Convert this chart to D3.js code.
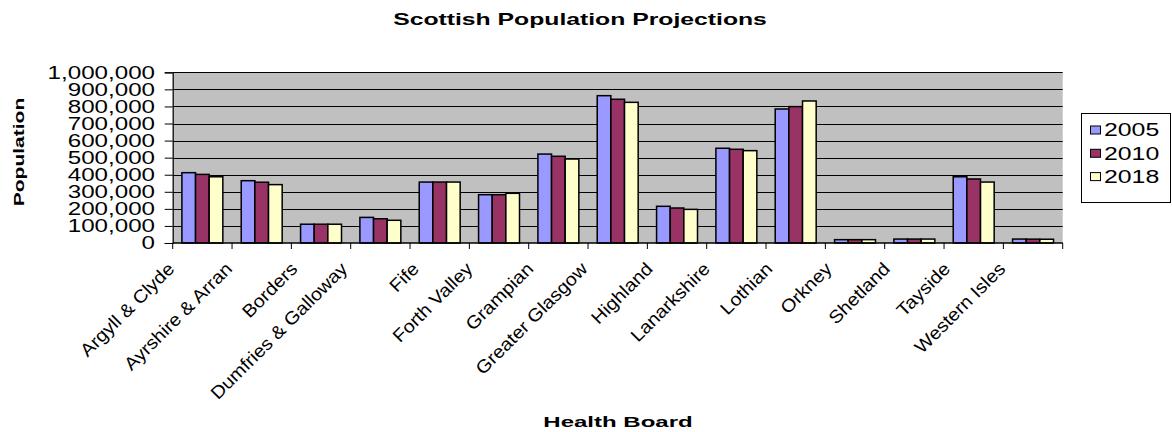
<!DOCTYPE html>
<html>
<head>
<meta charset="utf-8">
<script src="https://cdn.jsdelivr.net/npm/d3@7"></script>
<style>
  body { margin: 0; background: #fff; }
  svg { font-family: "Liberation Sans", Arial, sans-serif; }
</style>
</head>
<body>
<svg id="chart" width="1172" height="432"></svg>
<script>
var categories = ["Argyll & Clyde", "Ayrshire & Arran", "Borders", "Dumfries & Galloway", "Fife",
    "Forth Valley", "Grampian", "Greater Glasgow", "Highland", "Lanarkshire", "Lothian",
    "Orkney", "Shetland", "Tayside", "Western Isles"];
var years = ["2005", "2010", "2018"];
var pop2005 = [412000, 365000, 110000, 150000, 357000, 283000, 521000, 863000, 215000, 555000, 785000, 19500, 23000, 388000, 23000];
var pop2010 = [402000, 356000, 110000, 142000, 357000, 283000, 508000, 842000, 205000, 549000, 799000, 19500, 23000, 375000, 22500];
var pop2018 = [388000, 342000, 110000, 133000, 357000, 291000, 492000, 824000, 197000, 541000, 832000, 19500, 23000, 357000, 22000];
var yTicks = [0, 100000, 200000, 300000, 400000, 500000, 600000, 700000, 800000, 900000, 1000000];
var colors = ["#9999FF", "#993366", "#FFFFCC"];

var series = [pop2005, pop2010, pop2018];

var svg = d3.select("#chart");

var plot = {left: 172.7, right: 1062.7, top: 72.3, bottom: 243};

var x0 = d3.scaleBand()
    .domain(categories)
    .range([plot.left, plot.right])
    .paddingInner(0.31)
    .paddingOuter(0.155);

var x1 = d3.scaleBand()
    .domain(years)
    .range([0, x0.bandwidth()]);

var y = d3.scaleLinear()
    .domain([0, 1000000])
    .range([plot.bottom, plot.top]);

var fmt = d3.format(",");

// text that looks stretched like the excel fonts
function stretchText(parent, tx, ty, rot, sx, str) {
    var g = parent.append("g")
        .attr("transform", "translate(" + tx + "," + ty + ") rotate(" + rot + ") scale(" + sx + ",1)");
    return g.append("text").text(str);
}

// plot area background
svg.append("rect")
    .attr("x", plot.left)
    .attr("y", plot.top)
    .attr("width", plot.right - plot.left)
    .attr("height", plot.bottom - plot.top)
    .attr("fill", "#C0C0C0");

// gridlines
svg.append("g").selectAll("line")
    .data(yTicks.slice(1))
    .enter().append("line")
    .attr("x1", plot.left)
    .attr("x2", plot.right)
    .attr("y1", function(d) { return Math.round(y(d)) + 0.5; })
    .attr("y2", function(d) { return Math.round(y(d)) + 0.5; })
    .attr("stroke", "#000")
    .attr("stroke-width", 1);

// bars
var groups = svg.append("g").selectAll("g")
    .data(categories)
    .enter().append("g")
    .attr("transform", function(d) { return "translate(" + x0(d) + ",0)"; });

groups.selectAll("rect")
    .data(function(d, i) {
        return years.map(function(yr, j) { return {year: yr, value: series[j][i], k: j}; });
    })
    .enter().append("rect")
    .attr("x", function(d) { return x1(d.year); })
    .attr("y", function(d) { return y(d.value); })
    .attr("width", x1.bandwidth())
    .attr("height", function(d) { return plot.bottom - y(d.value); })
    .attr("fill", function(d) { return colors[d.k]; })
    .attr("stroke", "#000")
    .attr("stroke-width", 1.5);

// y axis
var yAxis = d3.axisLeft(y)
    .tickValues(yTicks)
    .tickSize(8)
    .tickFormat("");
var yg = svg.append("g")
    .attr("transform", "translate(" + plot.left + ",0)")
    .call(yAxis);
yg.select(".domain").attr("stroke", "#000").attr("stroke-width", 1.2);
yg.selectAll(".tick line").attr("stroke", "#000");

yTicks.forEach(function(t) {
    stretchText(svg, 155, y(t), 0, 1.38, fmt(t))
        .attr("text-anchor", "end")
        .attr("dy", "0.36em")
        .attr("font-size", 17.5)
        .attr("fill", "#000");
});

// x axis, ticks sit between categories
var step = x0.step();
var xTickPos = d3.range(categories.length + 1).map(function(i) { return plot.left + i * step; });
svg.append("line")
    .attr("x1", plot.left).attr("x2", plot.right)
    .attr("y1", plot.bottom).attr("y2", plot.bottom)
    .attr("stroke", "#000").attr("stroke-width", 1.5);
svg.append("g").selectAll("line")
    .data(xTickPos)
    .enter().append("line")
    .attr("x1", function(d) { return d; })
    .attr("x2", function(d) { return d; })
    .attr("y1", plot.bottom)
    .attr("y2", plot.bottom + 6)
    .attr("stroke", "#000");

// rotated category labels
categories.forEach(function(c) {
    var cx = x0(c) + x0.bandwidth() / 2;
    var t = stretchText(svg, 0, 0, 0, 1, c)
        .attr("font-size", 18)
        .attr("text-anchor", "end")
        .attr("fill", "#000");
    var len = t.node().getComputedTextLength() * 1.1;
    var off = 17 + 0.08 * len;
    d3.select(t.node().parentNode)
        .attr("transform", "translate(" + (cx - off) + ",270) rotate(-45) scale(1.1,1)");
});

// titles
stretchText(svg, 580, 24.5, 0, 1.5, "Scottish Population Projections")
    .attr("text-anchor", "middle")
    .attr("font-size", 16.5)
    .attr("font-weight", "bold");

stretchText(svg, 618, 427, 0, 1.55, "Health Board")
    .attr("text-anchor", "middle")
    .attr("font-size", 15.5)
    .attr("font-weight", "bold");

stretchText(svg, 23.5, 152, -90, 1.4, "Population")
    .attr("text-anchor", "middle")
    .attr("font-size", 15)
    .attr("font-weight", "bold");

// legend
var legend = svg.append("g");
legend.append("rect")
    .attr("x", 1081.5)
    .attr("y", 113.5)
    .attr("width", 89)
    .attr("height", 89)
    .attr("fill", "#fff")
    .attr("stroke", "#000");

years.forEach(function(yr, i) {
    var cy = 130 + i * 23.3;
    legend.append("rect")
        .attr("x", 1090.5)
        .attr("y", cy - 4)
        .attr("width", 10)
        .attr("height", 8)
        .attr("fill", colors[i])
        .attr("stroke", "#000");
    stretchText(legend, 1104, cy, 0, 1.38, yr)
        .attr("dy", "0.36em")
        .attr("font-size", 18);
});
</script>
</body>
</html>
